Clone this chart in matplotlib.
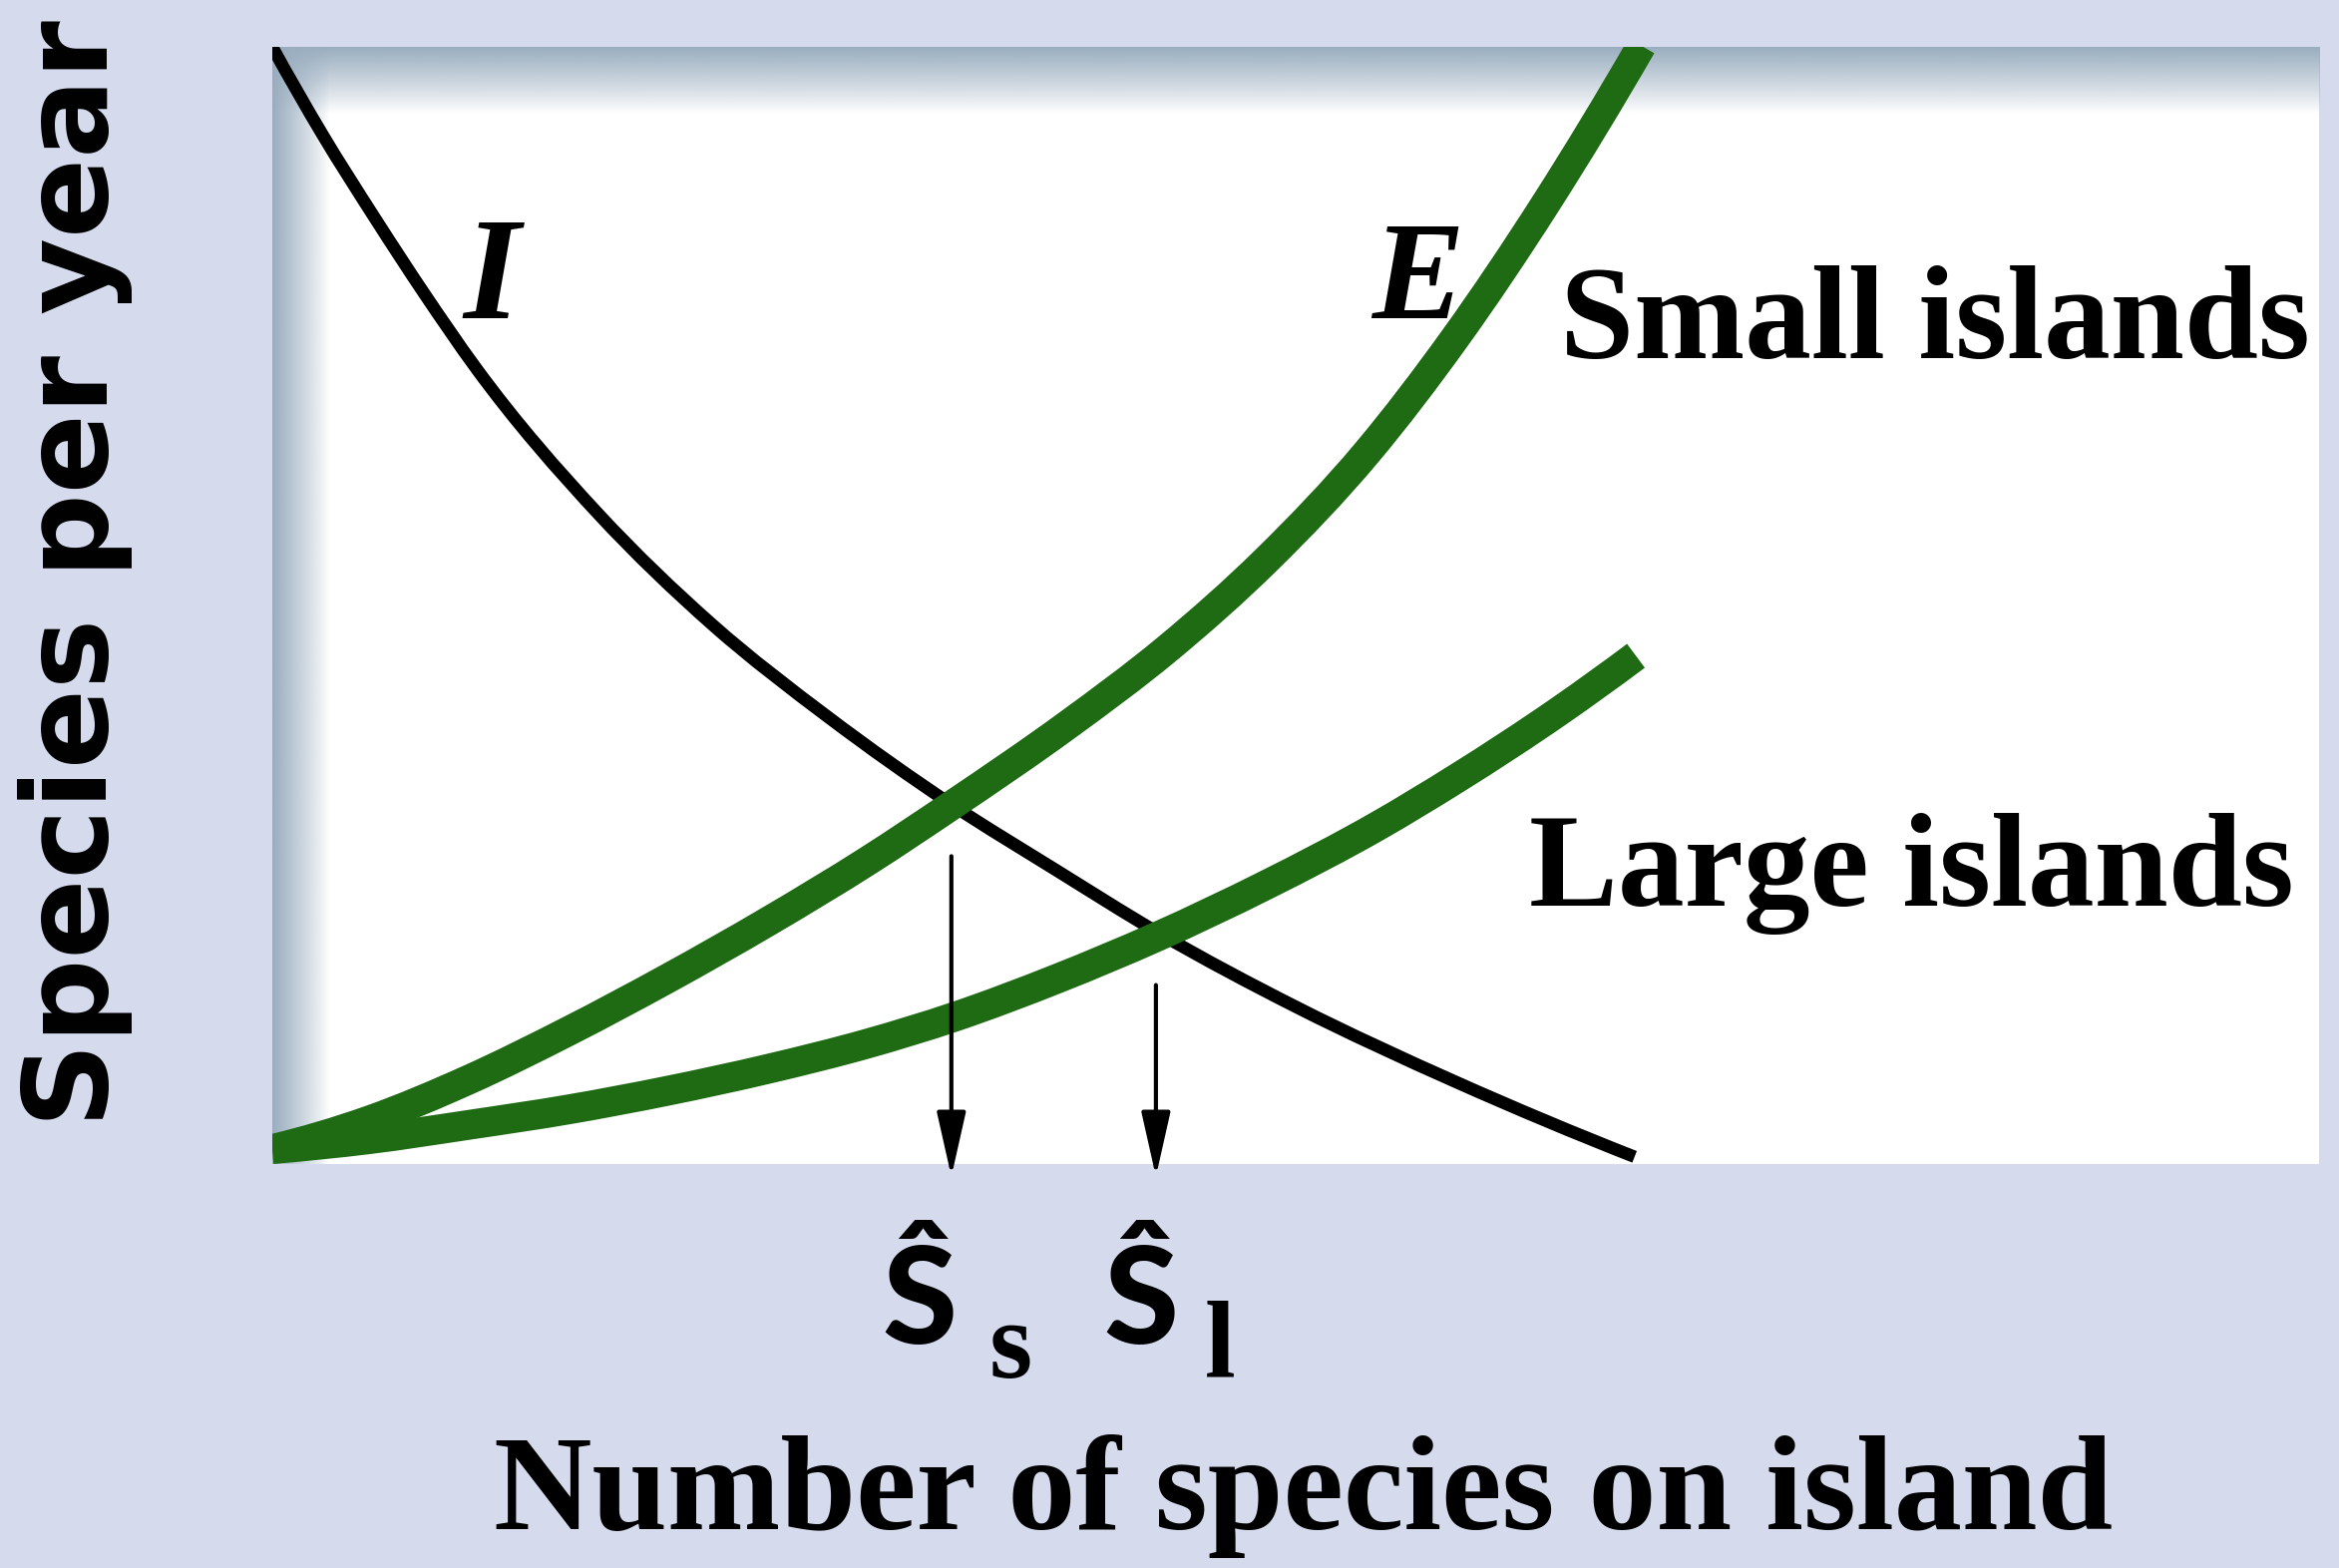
import numpy as np
import matplotlib
matplotlib.use("Agg")
import matplotlib.pyplot as plt
from matplotlib.path import Path
from matplotlib.patches import PathPatch

# Immigration curve (I): same for small and large islands
imm_x = [0.0, 3.7, 7.5, 11.2, 14.9, 23.9, 32.3, 40.8, 49.8, 57.4, 64.9, 75.1, 86.8, 99.9]
imm_y = [100.1, 92.1, 84.6, 77.6, 71.0, 57.7, 47.6, 39.2, 31.3, 25.4, 19.7, 12.9, 6.1, -0.7]

# Extinction curves (E)
ext_small_x = [0.0, 7.1, 14.4, 21.7, 29.0, 36.4, 43.7, 49.8, 58.3, 65.6, 72.9, 80.3, 86.7, 93.4, 100.4]
ext_small_y = [0.0, 2.6, 6.3, 10.7, 15.5, 20.7, 26.2, 31.2, 38.5, 45.4, 53.5, 63.3, 73.6, 85.9, 100.2]

ext_large_x = [0.0, 7.1, 14.4, 21.7, 29.0, 36.4, 43.7, 50.0, 57.6, 64.9, 72.9, 81.0, 86.9, 94.4, 100.0]
ext_large_y = [0.0, 0.9, 2.2, 3.6, 5.3, 7.3, 9.6, 12.0, 15.5, 19.3, 24.0, 29.3, 33.7, 39.8, 44.8]

# Equilibrium number of species, where I crosses E
eq_subscripts = ["s", "l"]
eq_species = [49.8, 64.8]
eq_rate = [31.2, 19.5]

BG = "#d5dbed"
GREEN = "#1e6b14"
SHADE = (0.60, 0.68, 0.75)
SERIF = ["Liberation Serif", "DejaVu Serif"]
SANS = ["Lato", "DejaVu Sans"]


def smooth_curve(xs, ys, **kw):
    # cubic Hermite through the points (tangents from neighbouring secants),
    # drawn as Bezier segments
    x = np.asarray(xs, float)
    y = np.asarray(ys, float)
    h = np.diff(x)
    d = np.diff(y) / h
    m = np.empty_like(x)
    m[1:-1] = (d[:-1] * h[1:] + d[1:] * h[:-1]) / (h[:-1] + h[1:])
    m[0] = 2 * d[0] - m[1]
    m[-1] = 2 * d[-1] - m[-2]
    verts = [(x[0], y[0])]
    codes = [Path.MOVETO]
    for i in range(len(h)):
        verts += [(x[i] + h[i] / 3, y[i] + m[i] * h[i] / 3),
                  (x[i + 1] - h[i] / 3, y[i + 1] - m[i + 1] * h[i] / 3),
                  (x[i + 1], y[i + 1])]
        codes += [Path.CURVE4] * 3
    return PathPatch(Path(verts, codes), fill=False, **kw)


fig = plt.figure(figsize=(23.45, 15.72), dpi=100, facecolor=BG)
ax = fig.add_axes([0.1164, 0.2576, 0.8751, 0.7125])
ax.set_facecolor("white")
for s in ax.spines.values():
    s.set_visible(False)
ax.set_xticks([])
ax.set_yticks([])

# soft shadow along the top and left edges of the panel
n = 64
fade = np.linspace(1, 0, n) ** 0.9
top = np.zeros((n, 1, 4))
top[..., :3] = SHADE
top[:, 0, 3] = fade
ax.imshow(top, extent=[0, 1, 0.94, 1], transform=ax.transAxes,
          aspect="auto", interpolation="bilinear", zorder=0.5)
left = np.zeros((1, n, 4))
left[..., :3] = SHADE
left[0, :, 3] = fade
ax.imshow(left, extent=[0, 0.028, 0, 1], transform=ax.transAxes,
          aspect="auto", interpolation="bilinear", zorder=0.5)

ax.set_xlim(0, 150.1)
ax.set_ylim(-1.36, 100.1)

ax.add_patch(smooth_curve(imm_x, imm_y, edgecolor="black", lw=9,
                          capstyle="butt", zorder=2))
ax.add_patch(smooth_curve(ext_small_x, ext_small_y, edgecolor=GREEN, lw=21.5,
                          capstyle="butt", joinstyle="round", zorder=3))
ax.add_patch(smooth_curve(ext_large_x, ext_large_y, edgecolor=GREEN, lw=21.5,
                          capstyle="butt", joinstyle="round", zorder=3))

# arrows down to the equilibrium points and their labels
hat_dx = [-2.3, -1.1]
sub_dx = [2.8, 3.6]
for x, r, sub, hdx, sdx in zip(eq_species, eq_rate, eq_subscripts, hat_dx, sub_dx):
    ax.annotate("", xy=(x, -2.5), xytext=(x, r - 4.6),
                arrowprops=dict(arrowstyle="-|>,head_length=2.0,head_width=0.45",
                                mutation_scale=20, lw=3.0, color="black",
                                shrinkA=0, shrinkB=0),
                annotation_clip=False, zorder=4)
    ax.text(x + hdx, -17.7, "\u015c", fontsize=98, fontweight="black", family=SANS,
            ha="center", va="baseline", clip_on=False)
    ax.text(x + sdx, -20.7, sub, fontsize=80, fontweight="bold", family=SERIF,
            ha="left", va="baseline", clip_on=False)

ax.text(16.1, 75.5, "I", fontsize=105, style="italic", fontweight="bold",
        family=SERIF, ha="center", va="baseline")
ax.text(84.0, 75.5, "E", fontsize=100, style="italic", fontweight="bold",
        family=SERIF, ha="center", va="baseline")
ax.text(94.4, 71.8, "Small islands", fontsize=96, fontweight="bold",
        family=SERIF, ha="left", va="baseline", clip_on=False)
ax.text(92.2, 22.1, "Large islands", fontsize=96, fontweight="bold",
        family=SERIF, ha="left", va="baseline", clip_on=False)

fig.text(0.557, 0.0248, "Number of species on island", fontsize=98,
         fontweight="bold", family=SERIF, ha="center", va="baseline")
fig.text(0.032, 0.634, "Species per year", fontsize=85, fontweight="bold",
         family=["DejaVu Sans"], rotation=90, ha="center", va="center")

fig.savefig("out.png", dpi=100, facecolor=BG)
